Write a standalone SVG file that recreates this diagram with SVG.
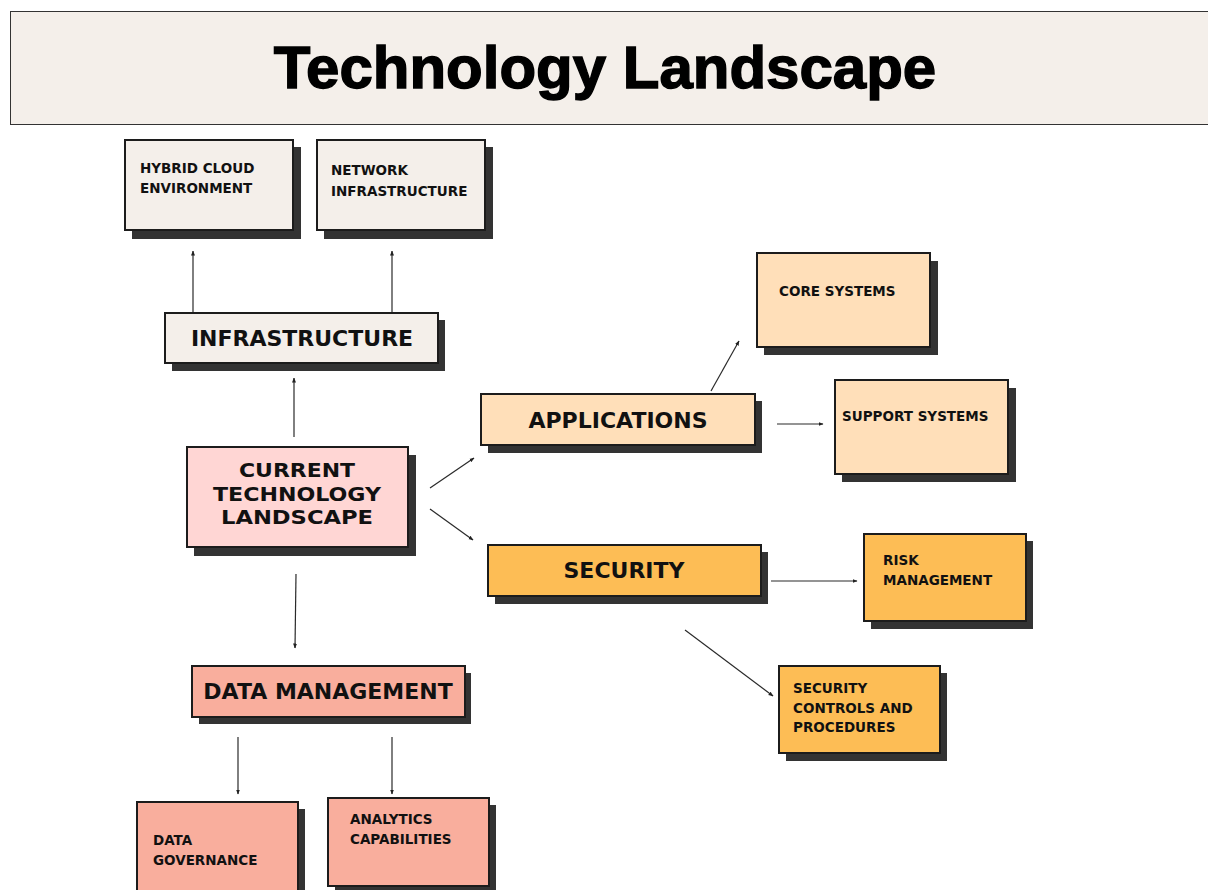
<svg xmlns="http://www.w3.org/2000/svg" width="1208" height="890" viewBox="0 0 1208 890">
  <defs>
    <marker id="arrow" viewBox="0 0 10 10" refX="9" refY="5" markerWidth="5" markerHeight="5" orient="auto" markerUnits="userSpaceOnUse">
      <path d="M0,1 L10,5 L0,9 Z" fill="#222"/>
    </marker>
    <style>
      .shadow { fill: #333333; }
      .box { stroke: #1c1c1c; stroke-width: 2; }
      .cream { fill: #f4efea; }
      .pink { fill: #ffd6d4; }
      .peach { fill: #ffdfb9; }
      .orange { fill: #fdbd55; }
      .salmon { fill: #f9ae9d; }
      .big { font-family: "DejaVu Sans", "Liberation Sans", sans-serif; font-weight: bold; font-size: 22px; fill: #111; text-anchor: middle; }
      .centre { font-size: 20px; }
      .small { font-family: "DejaVu Sans", "Liberation Sans", sans-serif; font-weight: bold; font-size: 13.5px; fill: #111; }
      .link { stroke: #2a2a2a; stroke-width: 1.2; fill: none; marker-end: url(#arrow); }
    </style>
  </defs>

  <rect width="1208" height="890" fill="#ffffff"/>

  <!-- header banner -->
  <g id="header">
    <rect x="10.5" y="11.5" width="1210" height="113" fill="#f4efea" stroke="#333" stroke-width="1"/>
    <text x="605" y="88" font-family="Liberation Sans, Arial, sans-serif" font-weight="bold" font-size="60" fill="#000" stroke="#000" stroke-width="1.4" text-anchor="middle">Technology Landscape</text>
  </g>

  <!-- connectors -->
  <g id="connectors">
    <line class="link" x1="193" y1="312" x2="193" y2="251"/>
    <line class="link" x1="392" y1="312" x2="392" y2="251"/>
    <line class="link" x1="294" y1="437" x2="294" y2="378"/>
    <line class="link" x1="296" y1="574" x2="295" y2="648"/>
    <line class="link" x1="430" y1="488" x2="474" y2="458"/>
    <line class="link" x1="430" y1="509" x2="473" y2="540"/>
    <line class="link" x1="711" y1="391" x2="739" y2="341"/>
    <line class="link" x1="777" y1="424" x2="823" y2="424"/>
    <line class="link" x1="771" y1="581" x2="857" y2="581"/>
    <line class="link" x1="685" y1="630" x2="773" y2="696"/>
    <line class="link" x1="238" y1="737" x2="238" y2="794"/>
    <line class="link" x1="392" y1="737" x2="392" y2="794"/>
  </g>

  <!-- infrastructure branch -->
  <g id="hybrid-cloud">
    <rect class="shadow" x="132" y="147" width="169" height="92"/>
    <rect class="box cream" x="125" y="140" width="168" height="90"/>
    <text class="small" x="140" y="173">HYBRID CLOUD</text>
    <text class="small" x="140" y="193">ENVIRONMENT</text>
  </g>
  <g id="network-infrastructure">
    <rect class="shadow" x="324" y="147" width="169" height="92"/>
    <rect class="box cream" x="317" y="140" width="168" height="90"/>
    <text class="small" x="331" y="175">NETWORK</text>
    <text class="small" x="331" y="196">INFRASTRUCTURE</text>
  </g>
  <g id="infrastructure">
    <rect class="shadow" x="172" y="320" width="273" height="51"/>
    <rect class="box cream" x="165" y="313" width="273" height="50"/>
    <text class="big" x="302" y="346">INFRASTRUCTURE</text>
  </g>

  <!-- centre node -->
  <g id="current-technology-landscape">
    <rect class="shadow" x="194" y="455" width="222" height="101"/>
    <rect class="box pink" x="187" y="447" width="221" height="100"/>
    <text class="big centre" x="297" y="477" textLength="116" lengthAdjust="spacingAndGlyphs">CURRENT</text>
    <text class="big centre" x="297" y="500.5" textLength="168" lengthAdjust="spacingAndGlyphs">TECHNOLOGY</text>
    <text class="big centre" x="297" y="524" textLength="152" lengthAdjust="spacingAndGlyphs">LANDSCAPE</text>
  </g>

  <!-- applications branch -->
  <g id="applications">
    <rect class="shadow" x="488" y="401" width="274" height="52"/>
    <rect class="box peach" x="481" y="394" width="274" height="51"/>
    <text class="big" x="618" y="428">APPLICATIONS</text>
  </g>
  <g id="core-systems">
    <rect class="shadow" x="764" y="261" width="174" height="94"/>
    <rect class="box peach" x="757" y="253" width="173" height="94"/>
    <text class="small" x="779" y="296">CORE SYSTEMS</text>
  </g>
  <g id="support-systems">
    <rect class="shadow" x="842" y="388" width="174" height="94"/>
    <rect class="box peach" x="835" y="380" width="173" height="94"/>
    <text class="small" x="842" y="421">SUPPORT SYSTEMS</text>
  </g>

  <!-- security branch -->
  <g id="security">
    <rect class="shadow" x="495" y="552" width="273" height="52"/>
    <rect class="box orange" x="488" y="545" width="273" height="51"/>
    <text class="big" x="624" y="578">SECURITY</text>
  </g>
  <g id="risk-management">
    <rect class="shadow" x="871" y="541" width="162" height="88"/>
    <rect class="box orange" x="864" y="534" width="162" height="87"/>
    <text class="small" x="883" y="565">RISK</text>
    <text class="small" x="883" y="585">MANAGEMENT</text>
  </g>
  <g id="security-controls">
    <rect class="shadow" x="786" y="673" width="161" height="88"/>
    <rect class="box orange" x="779" y="666" width="161" height="87"/>
    <text class="small" x="793" y="693">SECURITY</text>
    <text class="small" x="793" y="713">CONTROLS AND</text>
    <text class="small" x="793" y="732">PROCEDURES</text>
  </g>

  <!-- data branch -->
  <g id="data-management">
    <rect class="shadow" x="199" y="673" width="272" height="51"/>
    <rect class="box salmon" x="192" y="666" width="273" height="51"/>
    <text class="big" x="328" y="699">DATA MANAGEMENT</text>
  </g>
  <g id="data-governance">
    <rect class="shadow" x="144" y="809" width="161" height="92"/>
    <rect class="box salmon" x="137" y="802" width="161" height="92"/>
    <text class="small" x="153" y="845">DATA</text>
    <text class="small" x="153" y="865">GOVERNANCE</text>
  </g>
  <g id="analytics-capabilities">
    <rect class="shadow" x="335" y="805" width="161" height="89"/>
    <rect class="box salmon" x="328" y="798" width="161" height="88"/>
    <text class="small" x="350" y="824">ANALYTICS</text>
    <text class="small" x="350" y="844">CAPABILITIES</text>
  </g>
</svg>
